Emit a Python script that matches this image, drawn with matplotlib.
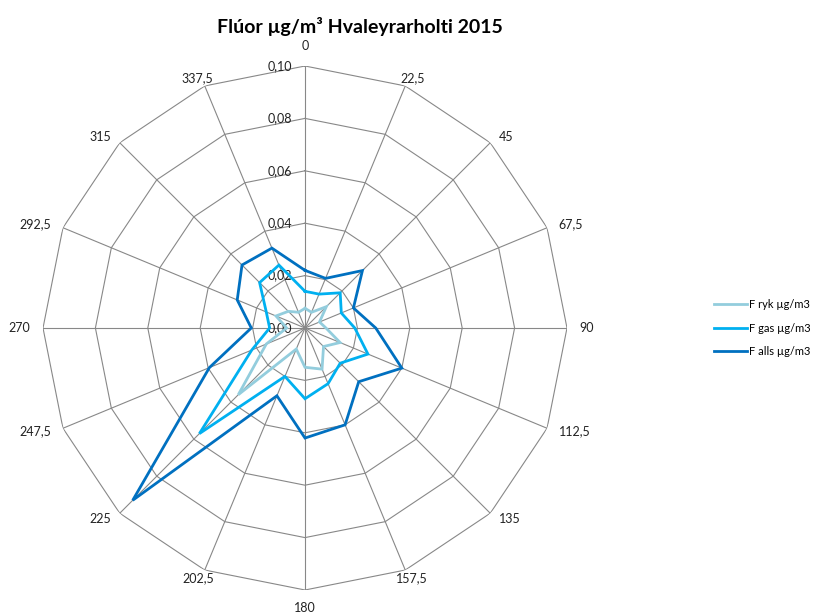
import matplotlib
matplotlib.use("Agg")
import matplotlib.pyplot as plt
import numpy as np

plt.rcParams['font.family'] = ['Lato', 'DejaVu Sans']

# wind directions (degrees) and concentrations
directions = [0, 22.5, 45, 67.5, 90, 112.5, 135, 157.5,
              180, 202.5, 225, 247.5, 270, 292.5, 315, 337.5]
dir_labels = ['0', '22,5', '45', '67,5', '90', '112,5', '135', '157,5',
              '180', '202,5', '225', '247,5', '270', '292,5', '315', '337,5']
f_ryk = [0.0075, 0.0065, 0.0115, 0.006, 0.008, 0.0145, 0.010, 0.017,
         0.015, 0.0087, 0.036, 0.016, 0.007, 0.012, 0.009, 0.0065]
f_gas = [0.014, 0.014, 0.019, 0.015, 0.019, 0.026, 0.019, 0.023,
         0.027, 0.020, 0.057, 0.022, 0.0135, 0.016, 0.0245, 0.026]
f_alls = [0.022, 0.0205, 0.031, 0.020, 0.027, 0.040, 0.029, 0.040,
          0.042, 0.028, 0.093, 0.0395, 0.0205, 0.028, 0.034, 0.033]
series_names = ['F ryk µg/m3', 'F gas µg/m3', 'F alls µg/m3']
rings = [0.02, 0.04, 0.06, 0.08, 0.10]
ring_labels = ['0,00', '0,02', '0,04', '0,06', '0,08', '0,10']

colors = ['#93CDDD', '#00B0F0', '#0070C0']
grid_c = '#888888'

fig = plt.figure(figsize=(8.22, 6.15), dpi=100)
ax = fig.add_axes([43 / 822, 25 / 615, 524 / 822, 524 / 615], projection='polar')
ax.set_theta_zero_location('N')
ax.set_theta_direction(-1)
ax.set_ylim(0, 0.10)
ax.grid(False)
ax.spines['polar'].set_visible(False)
ax.set_xticks([])
ax.set_yticks([])
ax.patch.set_visible(False)

theta = np.deg2rad(directions)
theta_c = np.append(theta, theta[0])

# polygon rings and spokes
for r in rings:
    ax.plot(theta_c, [r] * len(theta_c), color=grid_c, lw=0.8, zorder=1)
for t in theta:
    ax.plot([t, t], [0, 0.10], color=grid_c, lw=0.8, zorder=1)

# radial value labels
for i, lab in enumerate(ring_labels):
    ax.annotate(lab, xy=(0, i * 0.02), xytext=(-9, 0), textcoords='offset points',
                ha='right', va='center', fontsize=9, color='#222222', zorder=2)

# direction labels, placed just outside the outer ring
for t, lab in zip(theta, dir_labels):
    s, c = np.sin(t), np.cos(t)
    if abs(s) < 0.1:
        # straight up / down
        off = (0, 10) if c > 0 else (0, -9)
        ha, va = 'center', ('bottom' if c > 0 else 'top')
    elif abs(s) < 0.5:
        off = (s * 13, c * 6)
        ha, va = 'center', 'center'
    else:
        off = (s * 9, c * 6)
        ha, va = ('left' if s > 0 else 'right'), 'center'
    ax.annotate(lab, xy=(t, 0.10), xytext=off, textcoords='offset points',
                ha=ha, va=va, fontsize=9, color='#222222')

handles = []
for vals, c, name in zip([f_ryk, f_gas, f_alls], colors, series_names):
    v = np.append(vals, vals[0])
    h, = ax.plot(theta_c, v, color=c, lw=2.0, label=name, zorder=3,
                 solid_joinstyle='miter')
    handles.append(h)

fig.legend(handles=handles, loc='center right', bbox_to_anchor=(818 / 822, 1 - 328 / 615),
           frameon=False, fontsize=8, handlelength=3.0, handletextpad=0.1,
           labelspacing=1.15, borderpad=0.2)

fig.text(360 / 822, 1 - 27 / 615, 'Flúor µg/m³ Hvaleyrarholti 2015',
         ha='center', va='center', fontsize=14, fontweight='bold')

fig.savefig('out.png', dpi=100)
